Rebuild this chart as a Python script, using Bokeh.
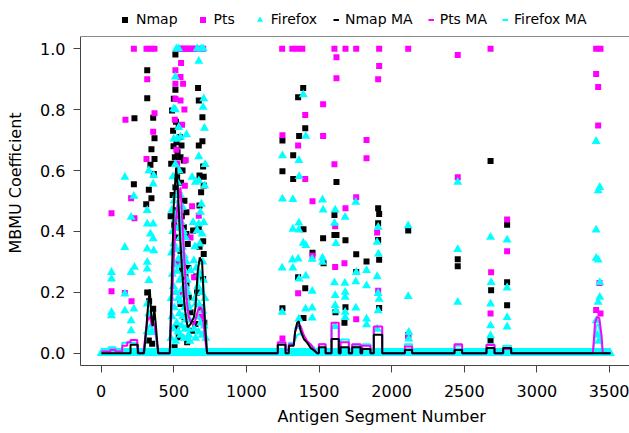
import numpy as np
from bokeh.plotting import figure
from bokeh.models import (Range1d, FixedTicker, Legend, LegendItem, PrintfTickFormatter,
                          Span, Title)
from bokeh.embed import file_html
from bokeh.resources import INLINE

# ---------------- data ----------------
x_ticks = [0, 500, 1000, 1500, 2000, 2500, 3000, 3500]
y_ticks = [0.0, 0.2, 0.4, 0.6, 0.8, 1.0]
n_segments = 3505          # antigen segments 1..N, value 0 where nothing is plotted above 0

nmap_points = [
    (225, 0.555), (229, 0.772), (310, 0.489), (317, 0.929), (317, 0.837), (317, 0.200),
    (328, 0.537), (328, 0.042), (330, 0.171), (339, 0.619), (346, 0.670), (346, 0.509),
    (351, 0.031), (358, 0.773), (358, 0.146), (362, 0.589), (367, 0.706), (367, 0.638),
    (478, 0.45), (482, 0.622), (488, 0.797), (492, 0.52), (495, 0.731), (498, 0.68),
    (500, 0.836), (503, 0.42), (505, 0.02), (507, 0.644), (511, 0.981), (511, 0.865),
    (511, 0.545), (515, 0.76), (518, 0.693), (518, 0.085), (520, 0.47), (523, 0.578),
    (526, 0.66), (528, 0.293), (530, 0.38), (534, 0.748), (534, 0.053), (537, 0.52),
    (539, 0.60), (541, 0.71), (546, 0.644), (546, 0.337), (546, 0.162), (550, 0.56),
    (553, 0.682), (555, 0.45), (557, 0.272), (560, 0.60), (565, 0.30), (569, 0.633),
    (569, 0.414), (573, 0.501), (573, 0.118), (580, 0.25), (587, 0.463), (587, 0.392),
    (587, 0.228), (592, 0.036), (596, 0.359), (600, 0.28), (603, 0.184), (615, 0.135),
    (626, 0.074), (633, 0.403),
    (649, 0.096), (654, 0.252), (660, 0.20), (667, 0.871), (672, 0.830), (672, 0.682),
    (672, 0.414), (677, 0.584), (677, 0.485), (677, 0.350), (688, 0.529), (690, 0.15),
    (697, 0.775), (697, 0.696), (702, 0.613), (702, 0.368), (702, 0.244), (706, 0.580),
    (706, 0.551), (706, 0.326), (710, 0.10),
    (1248, 0.699), (1248, 0.598), (1248, 0.148), (1322, 0.650), (1322, 0.572),
    (1356, 0.841), (1356, 0.250), (1363, 0.713), (1391, 0.871), (1393, 0.407),
    (1393, 0.116), (1405, 0.739), (1405, 0.214), (1455, 0.330), (1528, 0.378),
    (1531, 0.296), (1606, 0.454), (1606, 0.388), (1613, 0.135), (1620, 0.562),
    (1620, 0.388), (1675, 0.100), (1682, 0.371), (1682, 0.151), (1756, 0.325),
    (1756, 0.267), (1827, 0.301), (1907, 0.476), (1907, 0.427), (1907, 0.372),
    (1914, 0.457), (1914, 0.307), (1914, 0.149),
    (2114, 0.403), (2114, 0.06), (2455, 0.309), (2455, 0.286), (2681, 0.631),
    (2681, 0.042), (2685, 0.207), (2795, 0.422), (2795, 0.233), (2795, 0.158),
]

pts_points = [
    (71, 0.460), (71, 0.204), (163, 0.198), (167, 0.767), (206, 0.509), (209, 0.171),
    (225, 1.0), (229, 0.443), (312, 1.0), (339, 1.0), (367, 1.0), (317, 0.900),
    (367, 0.788), (358, 0.727), (312, 0.638),
    (533, 1.0), (546, 1.0), (558, 1.0), (570, 1.0), (582, 1.0), (595, 1.0), (610, 1.0),
    (625, 1.0), (640, 1.0), (655, 1.0), (690, 1.0), (702, 1.0),
    (550, 0.953), (511, 0.929), (546, 0.907), (511, 0.885), (564, 0.885), (511, 0.836),
    (546, 0.830), (573, 0.800), (507, 0.767), (557, 0.750), (518, 0.668), (582, 0.634),
    (523, 0.622), (576, 0.550), (626, 0.483), (615, 0.380), (672, 0.452), (530, 0.45),
    (540, 0.30), (560, 0.20), (595, 0.15), (640, 0.25), (690, 0.12),
    (1246, 1.0), (1316, 1.0), (1350, 1.0), (1385, 1.0), (1606, 1.0), (1682, 1.0),
    (1756, 1.0), (1914, 1.0), (2114, 1.0), (1620, 0.972), (1914, 0.943), (1620, 0.903),
    (1907, 0.900), (1528, 0.818), (1405, 0.782), (1248, 0.716), (1528, 0.713),
    (1827, 0.700), (1356, 0.682), (1827, 0.640), (1606, 0.621), (1405, 0.572),
    (1756, 0.512), (1455, 0.499), (1682, 0.476), (1611, 0.417), (1900, 0.397),
    (1455, 0.320), (1675, 0.296), (1611, 0.283), (1356, 0.197), (1907, 0.205),
    (1756, 0.112), (1248, 0.049), (2114, 0.055),
    (2455, 0.979), (2455, 0.578), (2681, 1.0), (2685, 0.266), (2681, 0.131),
    (2795, 0.439), (2795, 0.335), (3408, 1.0), (3438, 1.0), (3408, 0.917),
    (3422, 0.874), (3422, 0.748), (3431, 0.231), (3408, 0.142), (3438, 0.131),
]

firefox_points = [
    (71, 0.266), (71, 0.244), (71, 0.135), (71, 0.124), (163, 0.578), (163, 0.348),
    (163, 0.195), (163, 0.140), (206, 0.447), (225, 0.516), (206, 0.266), (229, 0.283),
    (225, 0.146), (206, 0.107), (206, 0.074), (317, 0.469), (317, 0.425), (358, 0.425),
    (317, 0.343), (339, 0.392), (358, 0.376), (328, 0.600), (362, 0.584), (358, 0.556),
    (317, 0.299), (317, 0.277), (328, 0.239), (317, 0.162), (328, 0.129), (351, 0.096),
    (344, 0.069), (317, 0.072), (362, 0.337),
    (518, 1.0), (534, 1.0), (661, 1.0), (688, 1.0), (702, 1.0), (672, 0.959),
    (511, 0.907), (500, 0.803), (511, 0.800), (534, 0.742), (500, 0.704), (523, 0.704),
    (546, 0.710), (587, 0.718), (706, 0.836), (702, 0.808), (711, 0.739), (672, 0.646),
    (672, 0.567), (626, 0.578), (649, 0.562), (690, 0.490), (683, 0.463), (672, 0.425),
    (706, 0.430), (633, 0.430), (661, 0.403), (695, 0.392), (679, 0.359), (638, 0.304),
    (615, 0.272), (557, 0.348),
    (480, 0.05), (482, 0.18), (484, 0.33), (486, 0.47), (488, 0.12), (490, 0.26),
    (492, 0.40), (494, 0.58), (496, 0.08), (498, 0.22), (500, 0.36), (502, 0.50),
    (504, 0.15), (506, 0.29), (508, 0.44), (510, 0.62), (512, 0.04), (514, 0.20),
    (516, 0.34), (518, 0.52), (520, 0.10), (522, 0.27), (524, 0.41), (526, 0.56),
    (528, 0.07), (530, 0.18), (532, 0.31), (534, 0.46), (536, 0.60), (538, 0.13),
    (540, 0.24), (542, 0.38), (544, 0.52), (546, 0.06), (548, 0.17), (550, 0.29),
    (552, 0.43), (554, 0.09), (556, 0.21), (558, 0.35), (560, 0.48), (562, 0.12),
    (564, 0.26), (566, 0.40), (568, 0.05), (570, 0.19), (572, 0.32), (574, 0.15),
    (576, 0.27), (578, 0.08), (580, 0.38), (582, 0.22), (584, 0.11), (586, 0.30),
    (588, 0.16), (590, 0.05), (592, 0.24), (594, 0.12), (596, 0.20), (598, 0.08),
    (600, 0.15), (603, 0.06), (606, 0.11), (610, 0.04),
    (640, 0.08), (645, 0.18), (650, 0.05), (655, 0.28), (660, 0.12), (665, 0.22),
    (670, 0.07), (675, 0.16), (680, 0.26), (685, 0.10), (690, 0.20), (695, 0.06),
    (700, 0.14), (705, 0.24), (710, 0.09), (715, 0.18), (720, 0.05), (645, 0.35),
    (700, 0.30), (712, 0.55), (716, 0.62),
    (1391, 0.849), (1409, 0.713), (1248, 0.649), (1361, 0.633), (1363, 0.581),
    (1248, 0.507), (1320, 0.505), (1524, 0.504), (1528, 0.471), (1611, 0.471),
    (1680, 0.447), (1753, 0.496), (1361, 0.428), (1320, 0.408), (1361, 0.405),
    (1606, 0.427), (1907, 0.414), (2114, 0.419), (2455, 0.562), (1391, 0.362),
    (1409, 0.354), (1616, 0.361), (1900, 0.365), (1317, 0.307), (1356, 0.310),
    (1453, 0.309), (1524, 0.313), (1524, 0.299), (1909, 0.326), (2455, 0.341),
    (1246, 0.280), (1320, 0.280), (1409, 0.254), (1756, 0.266), (1827, 0.272),
    (1900, 0.252), (1363, 0.244), (1453, 0.204), (1606, 0.232), (1678, 0.230),
    (1753, 0.235), (1827, 0.222), (1611, 0.190), (1680, 0.201), (1680, 0.184),
    (1907, 0.197), (1914, 0.178), (2114, 0.187), (2455, 0.168), (1246, 0.135),
    (1407, 0.146), (1453, 0.149), (1611, 0.157), (1680, 0.135), (1753, 0.149),
    (1907, 0.140), (1616, 0.140), (1361, 0.113), (1453, 0.116), (1680, 0.118),
    (1827, 0.113), (1827, 0.094), (1356, 0.088), (2118, 0.069), (2118, 0.047),
    (1611, 0.088), (1900, 0.080),
    (2681, 0.381), (2795, 0.372), (2685, 0.233), (2795, 0.215), (2681, 0.162),
    (2681, 0.091), (2795, 0.118), (2795, 0.087), (2681, 0.058),
    (3408, 0.696), (3433, 0.545), (3422, 0.534), (3408, 0.405), (3408, 0.312),
    (3422, 0.307), (3433, 0.233), (3433, 0.184), (3422, 0.168), (3408, 0.107),
    (3415, 0.06), (3425, 0.04),
]

nmap_ma = [
    (1, 0), (202, 0), (202, 0.028), (252, 0.028), (252, 0), (295, 0), (310, 0.08),
    (325, 0.17), (335, 0.21), (345, 0.12), (355, 0.09), (365, 0.15), (375, 0.10), (392, 0),
    (472, 0), (489, 0.29), (500, 0.49), (516, 0.61), (527, 0.545), (541, 0.40), (557, 0.27),
    (573, 0.16), (587, 0.107), (596, 0.085), (615, 0.096), (638, 0.118), (649, 0.15),
    (665, 0.27), (679, 0.315), (695, 0.30), (706, 0.18), (718, 0.074), (729, 0),
    (1216, 0), (1216, 0.028), (1269, 0.028), (1269, 0), (1292, 0), (1292, 0.025),
    (1326, 0.025), (1335, 0.07), (1349, 0.10), (1361, 0.105), (1372, 0.075), (1395, 0.047),
    (1418, 0.035), (1441, 0.018), (1464, 0.01), (1487, 0),
    (1499, 0), (1499, 0.02), (1545, 0.02), (1545, 0), (1586, 0), (1586, 0.047),
    (1636, 0.047), (1636, 0), (1648, 0), (1648, 0.02), (1705, 0.02), (1705, 0),
    (1728, 0), (1728, 0.02), (1786, 0.02), (1786, 0), (1797, 0), (1797, 0.014),
    (1854, 0.014), (1854, 0), (1877, 0), (1877, 0.061), (1935, 0.061), (1935, 0),
    (2091, 0), (2091, 0.011), (2141, 0.011), (2141, 0), (2433, 0), (2433, 0.011),
    (2485, 0.011), (2485, 0), (2653, 0), (2653, 0.0175), (2708, 0.0175), (2708, 0),
    (2768, 0), (2768, 0.0175), (2823, 0.0175), (2823, 0), (3507, 0),
]

pts_ma = [
    (1, 0.006), (64, 0.006), (64, 0.012), (98, 0.012), (98, 0.006), (145, 0.006),
    (145, 0.025), (179, 0.025), (179, 0.036), (202, 0.036), (202, 0.044), (248, 0.044),
    (248, 0.02), (260, 0), (290, 0), (305, 0.06), (320, 0.11), (335, 0.12), (350, 0.09),
    (365, 0.10), (380, 0.05), (395, 0),
    (472, 0), (490, 0.20), (510, 0.42), (530, 0.50), (546, 0.545), (557, 0.45),
    (573, 0.30), (587, 0.18), (603, 0.12), (620, 0.10), (640, 0.095), (655, 0.12),
    (672, 0.15), (690, 0.15), (700, 0.13), (712, 0.06), (729, 0),
    (1216, 0), (1216, 0.036), (1269, 0.036), (1269, 0.01), (1292, 0.01), (1292, 0.03),
    (1326, 0.03), (1335, 0.07), (1349, 0.09), (1372, 0.09), (1395, 0.06), (1418, 0.04),
    (1441, 0.03), (1464, 0.015), (1487, 0), (1499, 0), (1499, 0.03), (1545, 0.03),
    (1545, 0), (1586, 0), (1586, 0.10), (1636, 0.10), (1636, 0), (1648, 0),
    (1648, 0.036), (1705, 0.036), (1705, 0), (1728, 0), (1728, 0.03), (1786, 0.03),
    (1786, 0), (1797, 0), (1797, 0.025), (1854, 0.025), (1854, 0), (1877, 0),
    (1877, 0.088), (1935, 0.088), (1935, 0), (2091, 0), (2091, 0.022), (2141, 0.022),
    (2141, 0), (2433, 0), (2433, 0.03), (2485, 0.03), (2485, 0), (2653, 0),
    (2653, 0.027), (2708, 0.027), (2708, 0), (2768, 0), (2768, 0.014), (2823, 0.014),
    (2823, 0), (3385, 0), (3392, 0.04), (3400, 0.10), (3415, 0.12), (3430, 0.115),
    (3445, 0.06), (3454, 0), (3507, 0),
]

firefox_ma = [
    (1, 0), (50, 0), (50, 0.02), (100, 0.02), (100, 0), (145, 0), (145, 0.035),
    (250, 0.035), (250, 0), (295, 0), (310, 0.06), (330, 0.09), (350, 0.085), (375, 0.06),
    (392, 0), (472, 0), (490, 0.25), (510, 0.45), (530, 0.50), (550, 0.42), (570, 0.30),
    (590, 0.20), (615, 0.15), (640, 0.16), (660, 0.22), (680, 0.27), (700, 0.25),
    (715, 0.12), (729, 0), (1216, 0), (1216, 0.03), (1269, 0.03), (1269, 0), (1292, 0),
    (1292, 0.035), (1326, 0.035), (1349, 0.06), (1372, 0.065), (1418, 0.04), (1464, 0.02),
    (1487, 0), (1499, 0), (1499, 0.03), (1545, 0.03), (1545, 0), (1586, 0), (1586, 0.085),
    (1636, 0.085), (1636, 0), (1648, 0), (1648, 0.045), (1705, 0.045), (1705, 0),
    (1728, 0), (1728, 0.025), (1786, 0.025), (1786, 0), (1797, 0), (1797, 0.03),
    (1854, 0.03), (1854, 0), (1877, 0), (1877, 0.075), (1935, 0.075), (1935, 0),
    (2091, 0), (2091, 0.03), (2141, 0.03), (2141, 0), (2433, 0), (2433, 0.025),
    (2485, 0.025), (2485, 0), (2653, 0), (2653, 0.03), (2708, 0.03), (2708, 0),
    (2768, 0), (2768, 0.025), (2823, 0.025), (2823, 0), (3385, 0), (3395, 0.04),
    (3408, 0.09), (3425, 0.095), (3440, 0.05), (3454, 0), (3507, 0),
]

# plot region of the original figure (data units)
region_x = (-142.5, 3637.7)
region_y = (-0.04, 1.04)

# ---------------- build ----------------
segments = np.arange(1, n_segments + 1)
zero_values = np.zeros(n_segments)


def split(pairs):
    xs, ys = zip(*pairs)
    return list(xs), list(ys)


nx, ny = split(nmap_points)
px_, py_ = split(pts_points)
fx, fy = split(firefox_points)
ff_x = [int(s) for s in segments] + fx
ff_y = [float(v) for v in zero_values] + fy

FONT = "DejaVu Sans"
p = figure(width=629, height=433, output_backend="svg", toolbar_location=None,
           x_range=Range1d(region_x[0], region_x[1]), y_range=Range1d(region_y[0], 1.1582),
           min_border_left=80, min_border_right=0, min_border_top=0,
           min_border_bottom=68, background_fill_color="white",
           border_fill_color="white")
p.xgrid.visible = False
p.ygrid.visible = False
p.outline_line_color = None

# top edge of the plot box (the left and bottom edges are the axis lines)
top_edge = Span(location=region_y[1], dimension="width", line_color="#8a8a8a",
                line_width=1.2)
p.add_layout(top_edge)

for ax in (p.xaxis[0], p.yaxis[0]):
    ax.axis_line_color = "#444444"
    ax.major_tick_line_color = "#444444"
    ax.major_tick_out = 7
    ax.major_tick_in = 0
    ax.minor_tick_out = 0
    ax.minor_tick_in = 0
    ax.major_label_text_font = FONT
    ax.major_label_text_font_size = "16px"
    ax.major_label_text_color = "black"
    ax.axis_label_text_font_style = "normal"
    ax.axis_label_text_color = "black"

p.xaxis.ticker = FixedTicker(ticks=x_ticks)
p.xaxis.major_label_standoff = 12

p.yaxis.ticker = FixedTicker(ticks=y_ticks)
p.yaxis.formatter = PrintfTickFormatter(format="%.1f")
p.yaxis.bounds = region_y
p.yaxis.major_label_standoff = 8
p.yaxis.axis_label = "MBMU Coefficient"
p.yaxis.axis_label_text_font = FONT
p.yaxis.axis_label_text_font_size = "16px"
p.yaxis.axis_label_standoff = 12

xtitle = Title(text="Antigen Segment Number", align="left", offset=197,
               text_font=FONT, text_font_size="16px", text_font_style="normal",
               text_color="black", standoff=11)
p.add_layout(xtitle, "below")

r_n = p.scatter(nx, ny, marker="square", size=6, fill_color="black", line_color=None)
r_p = p.scatter(px_, py_, marker="square", size=6, fill_color="#ff00ff", line_color=None)
r_f = p.scatter(ff_x, ff_y, marker="triangle", size=9, fill_color="#00ffff", line_color=None)

fmx, fmy = split(firefox_ma)
pmx, pmy = split(pts_ma)
nmx, nmy = split(nmap_ma)
r_fm = p.line(fmx, fmy, line_color="#00ffff", line_width=2)
r_pm = p.line(pmx, pmy, line_color="#ff00ff", line_width=2)
r_nm = p.line(nmx, nmy, line_color="black", line_width=2)

legend_style = dict(orientation="horizontal", padding=0, margin=0, label_height=20,
                    border_line_color=None, background_fill_alpha=0,
                    label_text_font=FONT, label_text_font_size="14px",
                    label_text_color="black")
marker_legend = Legend(items=[
    LegendItem(label="Nmap", renderers=[r_n]),
    LegendItem(label="Pts", renderers=[r_p]),
    LegendItem(label="Firefox", renderers=[r_f]),
], location=(37, 336), glyph_width=15, glyph_height=15, label_standoff=4,
    spacing=17, **legend_style)
line_legend = Legend(items=[
    LegendItem(label="Nmap MA", renderers=[r_nm]),
    LegendItem(label="Pts MA", renderers=[r_pm]),
    LegendItem(label="Firefox MA", renderers=[r_fm]),
], location=(253, 336), glyph_width=6, glyph_height=15, label_standoff=6,
    spacing=15, **legend_style)
p.add_layout(marker_legend, "center")
p.add_layout(line_legend, "center")

open("out.html", "w").write(file_html(p, INLINE))
